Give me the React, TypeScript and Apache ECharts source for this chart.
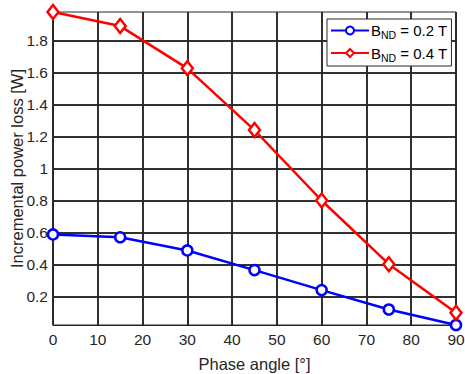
import React, { useEffect, useRef } from "react";
import * as echarts from "echarts";

const phaseAngles = [0, 15, 30, 45, 60, 75, 90];
const loss02 = [0.59, 0.572, 0.49, 0.367, 0.242, 0.121, 0.024];
const loss04 = [1.98, 1.892, 1.628, 1.242, 0.802, 0.404, 0.1];
const yTicks = [0.2, 0.4, 0.6, 0.8, 1.0, 1.2, 1.4, 1.6, 1.8];
const seriesNames = ["BND = 0.2 T", "BND = 0.4 T"];
const legendLabels: Record<string, string> = {
  "BND = 0.2 T": "{n|B}{s|ND}{n| = 0.2 T}",
  "BND = 0.4 T": "{n|B}{s|ND}{n| = 0.4 T}",
};

const FONT = "'Liberation Sans', Arial, Helvetica, sans-serif";

export default function App() {
  const ref = useRef<HTMLDivElement>(null);
  useEffect(() => {
    if (!ref.current) return;
    const chart = echarts.init(ref.current, null, { renderer: "svg" });
    const gridColor = "#262626";
    chart.setOption({
      animation: false,
      backgroundColor: "#ffffff",
      textStyle: { fontFamily: FONT },
      grid: {
        left: 53,
        right: 9,
        top: 12,
        bottom: 49,
        containLabel: false,
        outerBoundsMode: "none",
        show: true,
        borderColor: "#262626",
        borderWidth: 1,
        backgroundColor: "#ffffff",
      },
      legend: {
        left: 327,
        top: 19,
        orient: "vertical",
        data: seriesNames,
        backgroundColor: "#ffffff",
        borderColor: "#262626",
        borderWidth: 1,
        borderRadius: 0,
        padding: [4, 4, 3, 3],
        itemGap: 5,
        itemWidth: 38,
        itemHeight: 10,
        formatter: (name: string) => legendLabels[name] || name,
        textStyle: {
          padding: [0, 0, 0, -3],
          rich: {
            n: { fontSize: 15, color: "#000000", fontFamily: FONT },
            s: {
              fontSize: 10.5,
              color: "#000000",
              fontFamily: FONT,
              verticalAlign: "bottom",
              padding: [9, 0, 0, 0],
            },
          },
        },
      },
      xAxis: {
        type: "value",
        min: 0,
        max: 90,
        interval: 10,
        name: "Phase angle [°]",
        nameLocation: "middle",
        nameGap: 30,
        nameMoveOverlap: false,
        nameTextStyle: { fontSize: 16.5, color: "#262626", fontFamily: FONT },
        axisLine: { show: true, onZero: false, lineStyle: { color: "#262626", width: 1 } },
        axisTick: { show: true, inside: true, length: 5, lineStyle: { color: "#262626" } },
        axisLabel: { fontSize: 15.5, color: "#262626", margin: 6, fontFamily: FONT },
        splitLine: { show: true, lineStyle: { color: gridColor, width: 2, opacity: 0.95 } },
      },
      yAxis: {
        type: "value",
        min: 0.024,
        max: 1.98,
        name: "Incremental power loss [W]",
        nameLocation: "middle",
        nameGap: 28,
        nameMoveOverlap: false,
        nameTextStyle: { fontSize: 16.5, color: "#262626", fontFamily: FONT },
        axisLine: { show: true, lineStyle: { color: "#262626", width: 1 } },
        axisTick: {
          show: true,
          inside: true,
          length: 5,
          customValues: yTicks,
          lineStyle: { color: "#262626" },
        },
        axisLabel: {
          fontSize: 15.5,
          color: "#262626",
          margin: 5,
          fontFamily: FONT,
          customValues: yTicks,
          formatter: (v: number) => String(Number(v.toFixed(1))),
        },
        splitLine: { show: true, lineStyle: { color: gridColor, width: 2, opacity: 0.95 } },
      },
      series: [
        {
          name: seriesNames[0],
          type: "line",
          data: phaseAngles.map((x, i) => [x, loss02[i]]),
          symbol: "circle",
          symbolSize: 10,
          showAllSymbol: true,
          clip: false,
          lineStyle: { color: "#0000ff", width: 2.5 },
          itemStyle: { color: "#ffffff", borderColor: "#0000ff", borderWidth: 2.5 },
          z: 3,
        },
        {
          name: seriesNames[1],
          type: "line",
          data: phaseAngles.map((x, i) => [x, loss04[i]]),
          symbol: "diamond",
          symbolSize: [11, 14],
          showAllSymbol: true,
          clip: false,
          lineStyle: { color: "#ff0000", width: 2.5 },
          itemStyle: { color: "#ffffff", borderColor: "#ff0000", borderWidth: 2.5 },
          z: 4,
        },
      ],
    });
    return () => chart.dispose();
  }, []);
  return <div ref={ref} style={{ width: 465, height: 374, position: "absolute", left: 0, top: 0 }} />;
}
